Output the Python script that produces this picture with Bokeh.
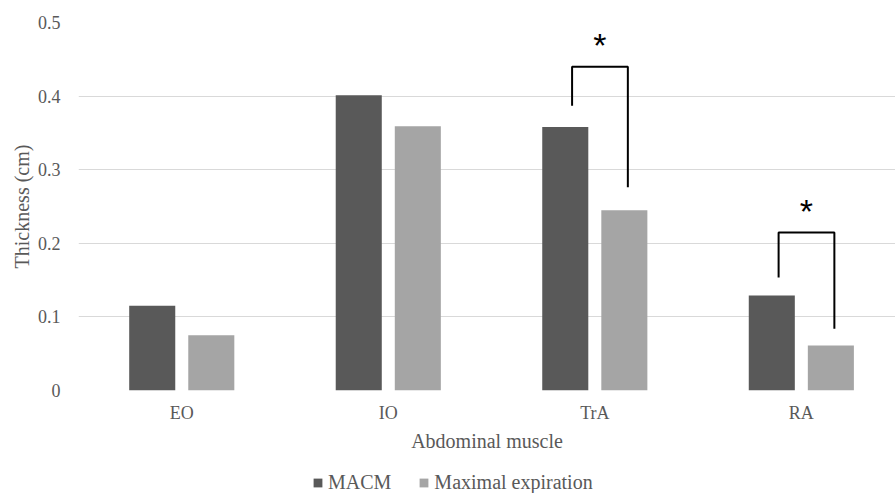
from bokeh.plotting import figure
from bokeh.layouts import column
from bokeh.models import Range1d, FixedTicker, Legend, LegendItem, ColumnDataSource
from bokeh.core.properties import value
from bokeh.embed import file_html
from bokeh.resources import INLINE

categories = ["EO", "IO", "TrA", "RA"]
macm = [0.115, 0.401, 0.358, 0.129]
expiration = [0.075, 0.359, 0.245, 0.061]
series_names = ["MACM", "Maximal expiration"]
y_ticks = [0, 0.1, 0.2, 0.3, 0.4, 0.5]
y_tick_labels = ["0", "0.1", "0.2", "0.3", "0.4", "0.5"]
# significance brackets: category index, top, left bottom, right bottom
sig_cat = [2, 3]
sig_top = [0.44, 0.2147]
sig_left_bottom = [0.387, 0.1535]
sig_right_bottom = [0.276, 0.084]

DARK = "#595959"
LIGHT = "#a5a5a5"
TXT = "#595959"
SERIF = "Liberation Serif"

centers = [i + 0.5 for i in range(len(categories))]
off = 0.143
bw = 0.223

p = figure(frame_width=817, frame_height=368, output_backend="svg", toolbar_location=None,
           x_range=Range1d(0, 3.956), y_range=Range1d(0, 0.5))
p.min_border_left = 78
p.min_border_right = 0
p.min_border_top = 22
p.min_border_bottom = 70
p.outline_line_color = None
p.background_fill_color = "white"
p.border_fill_color = "white"

p.xgrid.grid_line_color = None
p.ygrid.grid_line_color = "#d9d9d9"
p.ygrid.grid_line_width = 1

src = ColumnDataSource(dict(
    xm=[c - off for c in centers], xe=[c + off for c in centers],
    m=macm, e=expiration))
p.vbar(x="xm", top="m", width=bw, bottom=0, source=src, fill_color=DARK, line_color=None)
p.vbar(x="xe", top="e", width=bw, bottom=0, source=src, fill_color=LIGHT, line_color=None)

# brackets
for ci, top, lb, rb in zip(sig_cat, sig_top, sig_left_bottom, sig_right_bottom):
    c = centers[ci]
    xl = c - 0.11
    xr = c + 0.16
    p.line(x=[xl, xl, xr, xr], y=[lb, top, top, rb], line_color="black", line_width=2)
    p.text(x=[(xl + xr) / 2], y=[top + 0.003], text=["*"], text_align="center",
           text_baseline="bottom", text_font=value("Liberation Sans"),
           text_font_size="34px", text_color="black")

# axes
p.yaxis.ticker = FixedTicker(ticks=y_ticks)
p.yaxis.major_label_overrides = {t: l for t, l in zip(y_ticks, y_tick_labels)}
p.yaxis.axis_line_color = None
p.yaxis.major_tick_line_color = None
p.yaxis.minor_tick_line_color = None
p.yaxis.major_label_text_font = SERIF
p.yaxis.major_label_text_font_size = "18px"
p.yaxis.major_label_text_color = TXT
p.yaxis.major_label_standoff = 12
p.yaxis.axis_label = "Thickness (cm)"
p.yaxis.axis_label_text_font = SERIF
p.yaxis.axis_label_text_font_size = "20px"
p.yaxis.axis_label_text_font_style = "normal"
p.yaxis.axis_label_text_color = TXT
p.yaxis.axis_label_standoff = 2

p.xaxis.ticker = FixedTicker(ticks=centers)
p.xaxis.major_label_overrides = {c: n for c, n in zip(centers, categories)}
p.xaxis.axis_line_color = None
p.xaxis.major_tick_line_color = None
p.xaxis.minor_tick_line_color = None
p.xaxis.major_label_text_font = SERIF
p.xaxis.major_label_text_font_size = "18px"
p.xaxis.major_label_text_color = TXT
p.xaxis.major_label_standoff = 6
p.xaxis.axis_label = "Abdominal muscle"
p.xaxis.axis_label_text_font = SERIF
p.xaxis.axis_label_text_font_size = "20px"
p.xaxis.axis_label_text_font_style = "normal"
p.xaxis.axis_label_text_color = TXT
p.xaxis.axis_label_standoff = 4

# legend strip below the chart (swatch renderers sit outside the visible range)
lg = figure(frame_width=895, frame_height=40, output_backend="svg", toolbar_location=None,
            x_axis_type=None, y_axis_type=None, x_range=Range1d(0, 1), y_range=Range1d(0, 1))
lg.min_border_left = 0
lg.min_border_right = 0
lg.min_border_top = 0
lg.min_border_bottom = 0
lg.outline_line_color = None
lg.xgrid.grid_line_color = None
lg.ygrid.grid_line_color = None
swatch = ColumnDataSource(dict(x=[-5.0], top=[0.0]))
l1 = lg.vbar(x="x", top="top", width=0.1, source=swatch, fill_color=DARK, line_color=None)
l2 = lg.vbar(x="x", top="top", width=0.1, source=swatch, fill_color=LIGHT, line_color=None)
legend = Legend(items=[LegendItem(label=series_names[0], renderers=[l1]),
                       LegendItem(label=series_names[1], renderers=[l2])],
                orientation="horizontal", location=(312, 6))
legend.label_text_font = SERIF
legend.label_text_font_size = "20px"
legend.label_text_color = TXT
legend.border_line_color = None
legend.background_fill_alpha = 0
legend.glyph_width = 11
legend.glyph_height = 11
legend.label_height = 20
legend.label_standoff = 5
legend.spacing = 27
legend.margin = 0
legend.padding = 0
lg.add_layout(legend, "center")

layout = column(p, lg, spacing=0)
open("out.html", "w").write(file_html(layout, INLINE))
